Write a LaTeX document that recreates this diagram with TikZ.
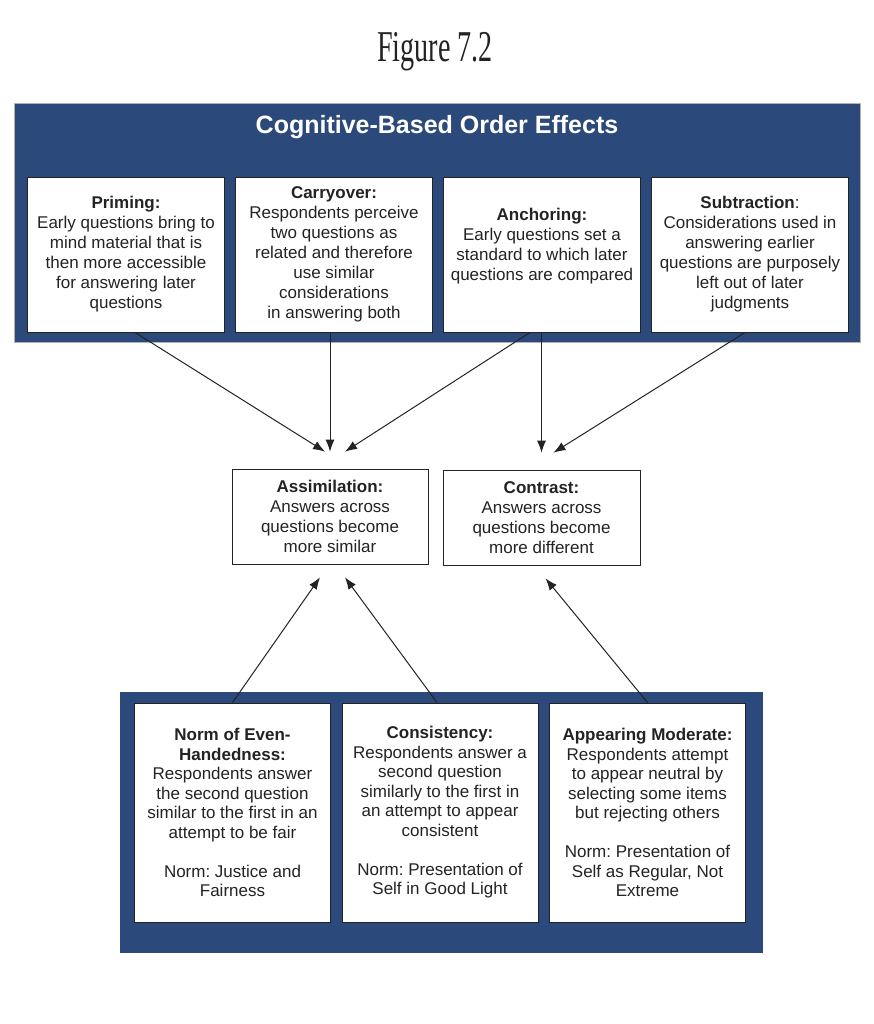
\documentclass[tikz,border=0pt]{standalone}
\usepackage{fontspec}
\setmainfont{Liberation Sans}
\newfontfamily\figfont{Liberation Serif}
\usetikzlibrary{arrows.meta}
\frenchspacing

\definecolor{panelblue}{RGB}{43,73,122}
\definecolor{inkgray}{RGB}{35,35,35}

\tikzset{
  effectbox/.style={draw=inkgray, line width=0.9pt, fill=white, align=center,
    text=inkgray, inner sep=0pt, font=\fontsize{17}{20}\selectfont},
  topbox/.style={effectbox, minimum width=197pt, minimum height=155pt},
  midbox/.style={effectbox, minimum width=196pt, minimum height=95pt, line width=0.7pt},
  normbox/.style={effectbox, minimum width=196pt, minimum height=219pt,
    font=\fontsize{17}{19.5}\selectfont},
  arr/.style={-{Latex[length=12pt,width=9pt]}, line width=1pt, draw=inkgray},
}

\begin{document}
\begin{tikzpicture}[x=1pt,y=-1pt]

    \useasboundingbox (0,0) rectangle (874,1024);

    % Figure number
    \node[text=inkgray, font=\figfont\fontsize{44}{44}\selectfont] (fignum) at (435,52)
        {\scalebox{0.64}[1]{Figure 7.2}};

    % Blue panels
    \filldraw[fill=panelblue, draw=gray!60, line width=0.8pt] (14,103) rectangle (860,342);
    \filldraw[fill=panelblue, draw=panelblue] (120,692) rectangle (762,952);

    \node[text=white, font=\bfseries\fontsize{25}{25}\selectfont] (panelhead) at (437,127)
        {Cognitive-Based Order Effects};

    % Cognitive effects
    \node[topbox] (priming) at (126,254.5) {\textbf{Priming:}\\Early questions bring to\\mind material that is\\then more accessible\\for answering later\\questions};
    \node[topbox] (carry) at (334,254.5) {\textbf{Carryover:}\\Respondents perceive\\two questions as\\related and therefore\\use similar\\considerations\\in answering both};
    \node[topbox] (anchor) at (542,254.5) {\textbf{Anchoring:}\\Early questions set a\\standard to which later\\questions are compared\\ \mbox{}};
    \node[topbox] (subtr) at (750,254.5) {\textbf{Subtraction}:\\Considerations used in\\answering earlier\\questions are purposely\\left out of later\\judgments};

    % Outcomes
    \node[midbox] (assim) at (330,516.5) {\textbf{Assimilation:}\\Answers across\\questions become\\more similar};
    \node[midbox, minimum width=197pt] (contrast) at (541.5,517.5) {\textbf{Contrast:}\\Answers across\\questions become\\more different};

    % Norm-based effects
    \node[normbox] (norm) at (232.5,812.5) {\textbf{Norm of Even-}\\\textbf{Handedness:}\\Respondents answer\\the second question\\similar to the first in an\\attempt to be fair\\[19.5pt]Norm: Justice and\\Fairness};
    \node[normbox] (consist) at (440,812.5) {\textbf{Consistency:}\\Respondents answer a\\second question\\similarly to the first in\\an attempt to appear\\consistent\\[19.5pt]Norm: Presentation of\\Self in Good Light};
    \node[normbox] (appear) at (647.5,812.5) {\textbf{Appearing Moderate:}\\Respondents attempt\\to appear neutral by\\selecting some items\\but rejecting others\\[19.5pt]Norm: Presentation of\\Self as Regular, Not\\Extreme};

    % Arrows down
    \draw[arr] ([xshift=9pt]priming.south) -- ([xshift=-5pt,yshift=17pt]assim.north);
    \draw[arr] ([xshift=-4pt]carry.south) -- ([yshift=17pt]assim.north);
    \draw[arr] ([xshift=-12pt]anchor.south) -- ([xshift=15pt,yshift=17pt]assim.north);
    \draw[arr] ([xshift=-0.5pt]anchor.south) -- ([yshift=17pt]contrast.north);
    \draw[arr] ([xshift=-5pt]subtr.south) -- ([xshift=12pt,yshift=17pt]contrast.north);

    % Arrows up
    \draw[arr] (norm.north) -- ([xshift=-10pt,yshift=-13pt]assim.south);
    \draw[arr] ([xshift=-3pt]consist.north) -- ([xshift=15pt,yshift=-13pt]assim.south);
    \draw[arr] (appear.north) -- ([xshift=4pt,yshift=-13pt]contrast.south);

\end{tikzpicture}
\end{document}
